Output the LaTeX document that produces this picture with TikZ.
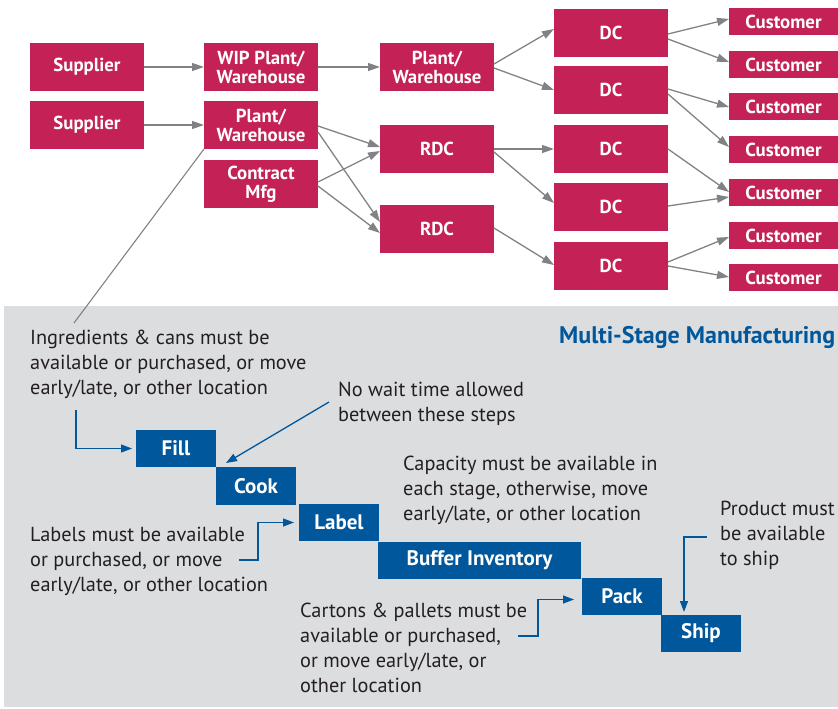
\documentclass[tikz,border=0pt]{standalone}
\usepackage{fontspec}
\setmainfont{PT Sans}
\usetikzlibrary{arrows.meta}
\definecolor{crim}{RGB}{196,34,86}
\definecolor{mblue}{RGB}{0,87,155}
\definecolor{agray}{RGB}{128,130,133}
\definecolor{bggray}{RGB}{220,221,223}
\definecolor{txt}{RGB}{35,31,32}
\newcommand\bx[7]{\node[#7, minimum width={#4-#2}, minimum height={#5-#3}] (#1) at ({(#2+#4)/2},{(#3+#5)/2}) {#6};}
\tikzset{
  rb/.style={fill=crim, text=white, font=\bfseries\fontsize{18.8}{19}\selectfont, align=center, inner sep=0pt, outer sep=0pt},
  bb/.style={fill=mblue, text=white, font=\bfseries\fontsize{21}{22}\selectfont, inner sep=0pt, outer sep=0pt},
  ga/.style={draw=agray, line width=1.3pt, -{Triangle[length=12pt,width=8pt]}},
  ba/.style={draw=mblue, line width=1.3pt, -{Triangle[length=11pt,width=8pt]}},
  note/.style={anchor=north west, align=left, inner sep=0pt, text=txt, font=\fontsize{20.3}{25}\selectfont},
}
\begin{document}
\begin{tikzpicture}[x=1pt,y=-1pt]
\useasboundingbox (0,0) rectangle (838,709);
\fill[bggray] (4,306) rectangle (838,707);
% top network
\bx{s1}{30}{43}{144}{91}{Supplier}{rb}
\bx{s2}{30}{101}{144}{149}{Supplier}{rb}
\bx{wip}{204}{43}{318}{91}{WIP Plant/\\Warehouse}{rb}
\bx{p2}{204}{101}{318}{149}{Plant/\\Warehouse}{rb}
\bx{cm}{204}{160}{318}{208}{Contract\\Mfg}{rb}
\bx{p3}{380}{43}{494}{91}{Plant/\\Warehouse}{rb}
\bx{rdc1}{380}{125}{494}{173}{RDC}{rb}
\bx{rdc2}{380}{205}{494}{253}{RDC}{rb}
\bx{dc1}{554}{9}{668}{57}{DC}{rb}
\bx{dc2}{554}{66}{668}{114}{DC}{rb}
\bx{dc3}{554}{125}{668}{173}{DC}{rb}
\bx{dc4}{554}{183}{668}{231}{DC}{rb}
\bx{dc5}{554}{242}{668}{290}{DC}{rb}
\bx{c1}{729}{8}{843}{35}{Customer\hspace*{5pt}}{rb}
\bx{c2}{729}{51}{843}{78}{Customer\hspace*{5pt}}{rb}
\bx{c3}{729}{93}{843}{120}{Customer\hspace*{5pt}}{rb}
\bx{c4}{729}{136}{843}{163}{Customer\hspace*{5pt}}{rb}
\bx{c5}{729}{179}{843}{206}{Customer\hspace*{5pt}}{rb}
\bx{c6}{729}{222}{843}{249}{Customer\hspace*{5pt}}{rb}
\bx{c7}{729}{264}{843}{291}{Customer\hspace*{5pt}}{rb}
\draw[ga] (s1.east) -- (wip.west);
\draw[ga] (s2.east) -- (p2.west);
\draw[ga] (wip.east) -- (p3.west);
\draw[ga] ([yshift=3pt]p3.east) -- ([yshift=4pt]dc1.west);
\draw[ga] ([yshift=-1pt]p3.east) -- (dc2.west);
\draw[ga] ([yshift=-1pt]p2.east) -- ([yshift=2pt]rdc1.west);
\draw[ga] ([yshift=-7pt]p2.east) -- ([yshift=7pt]rdc2.west);
\draw[ga] ([yshift=2pt]cm.east) -- ([yshift=-2pt]rdc1.west);
\draw[ga] ([yshift=-2pt]cm.east) -- ([yshift=-4pt]rdc2.west);
\draw[ga] (rdc1.east) -- (dc3.west);
\draw[ga] ([yshift=-3pt]rdc1.east) -- ([yshift=4pt]dc4.west);
\draw[ga] ([yshift=1pt]rdc2.east) -- ([yshift=1pt]dc5.west);
\draw[ga] ([yshift=-1pt]dc1.east) -- ([yshift=2.5pt]c1.west);
\draw[ga] ([yshift=-6pt]dc1.east) -- ([yshift=2.5pt]c2.west);
\draw[ga] ([yshift=1pt]dc2.east) -- ([yshift=-0.5pt]c3.west);
\draw[ga] ([yshift=-4pt]dc2.east) -- ([yshift=2.5pt]c4.west);
\draw[ga] (dc3.east) -- ([yshift=0.5pt]c5.west);
\draw[ga] ([yshift=1pt]dc4.east) -- ([yshift=-4.5pt]c5.west);
\draw[ga] ([yshift=4pt]dc5.east) -- ([yshift=-1.5pt]c6.west);
\draw[ga] (dc5.east) -- ([yshift=0.5pt]c7.west);
\coordinate (lk) at (74,323);
\draw[draw=agray, line width=1.1pt] (p2.south west) -- (lk);
% bottom
\node[anchor=north west, inner sep=0pt, text=mblue, font=\bfseries\fontsize{24}{26}\selectfont] (title) at (559,326) {Multi-Stage Manufacturing};
\bx{fill}{136}{430}{216}{467}{Fill}{bb}
\bx{cook}{216}{467}{296}{505}{Cook}{bb}
\bx{label}{299}{504}{379}{541}{Label}{bb}
\bx{buf}{378}{542}{581}{579}{Buffer Inventory}{bb}
\bx{pack}{582}{578}{662}{615}{Pack}{bb}
\bx{ship}{661}{615}{741}{652}{Ship}{bb}
\node[note] (n1) at (30,330) {Ingredients \& cans must be\\available or purchased, or move\\early/late, or other location};
\node[note] (n2) at (338,382) {No wait time allowed\\between these steps};
\node[note] (n3) at (403,456) {Capacity must be available in\\each stage, otherwise, move\\early/late, or other location};
\node[note] (n4) at (30,527) {Labels must be available\\or purchased, or move\\early/late, or other location};
\node[note] (n5) at (300,603) {Cartons \& pallets must be\\available or purchased,\\or move early/late, or\\other location};
\node[note] (n6) at (720,501) {Product must\\be available\\to ship};
\coordinate (a1) at (76,410);
\draw[ba] (a1) |- ([xshift=-4pt]fill.west);
\coordinate (a2) at (329,402);
\coordinate (a2e) at (226,463);
\draw[ba] (a2) -- (a2e);
\coordinate (a3) at (239,560);
\draw[ba] (a3) -- (258,560) |- ([xshift=-5pt]label.west);
\coordinate (a4) at (518,636);
\draw[ba] (a4) -- (538,636) |- ([xshift=-8pt,yshift=-3pt]pack.west);
\coordinate (a5) at (707,537);
\draw[ba] (a5) -- (684,537) -- ([xshift=-17pt,yshift=3pt]ship.north);
\end{tikzpicture}
\end{document}
